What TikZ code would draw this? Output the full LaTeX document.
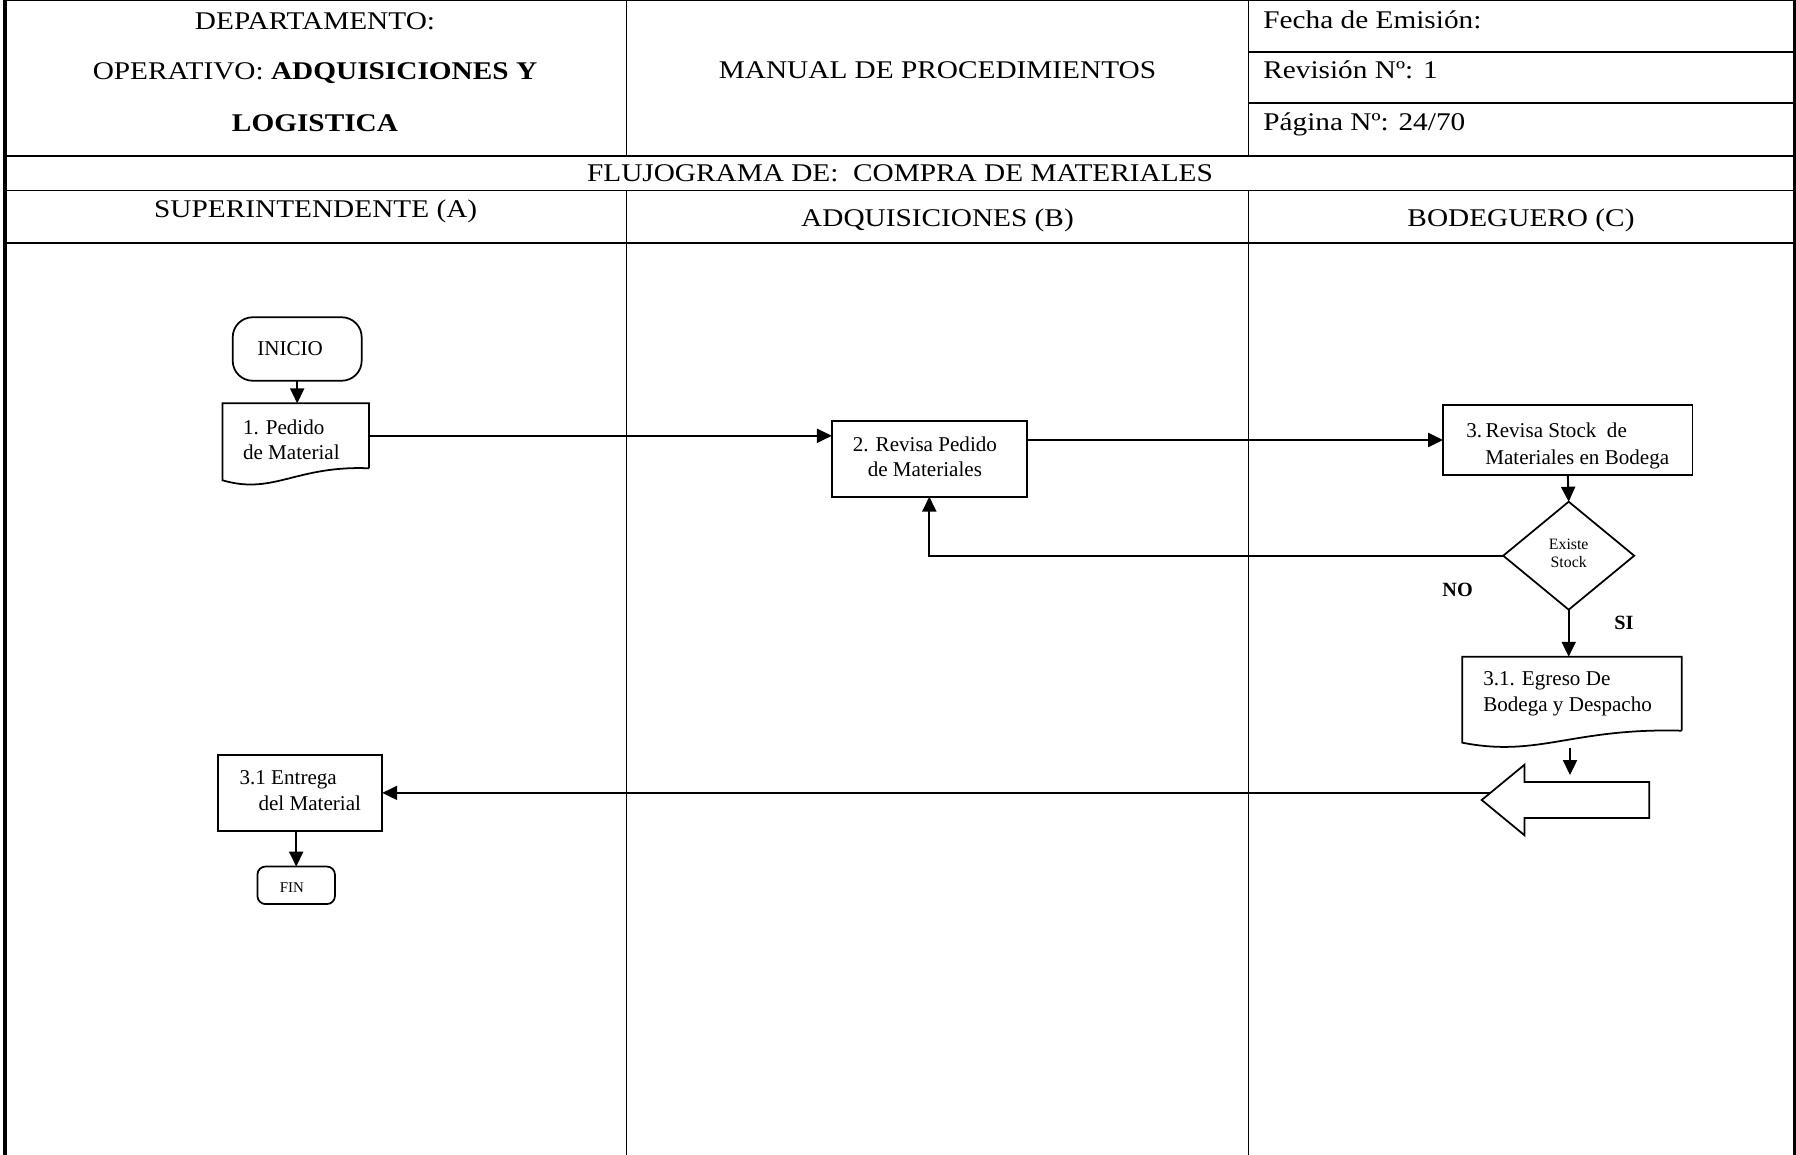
\documentclass[tikz,border=0pt]{standalone}
\usepackage{fontspec}
\setmainfont{Liberation Serif}
\newfontfamily\cabecera[FakeStretch=1.15]{Liberation Serif}
\usetikzlibrary{arrows.meta, calc, shapes.geometric, shapes.arrows}

\tikzset{
  tabla/.style={line width=1pt},
  titulo/.style={font=\cabecera\fontsize{14.5}{17}\selectfont, anchor=base, inner sep=0pt},
  caja/.style={draw, line width=1pt, font=\fontsize{12}{14.4}\selectfont, align=center, inner sep=0pt, outer sep=0pt},
  doc/.style={caja, draw=none, align=left},
  terminal/.style={caja, rounded corners=0.4cm},
  decision/.style={caja, diamond, font=\fontsize{9}{10.6}\selectfont},
  bloque/.style={single arrow, draw, line width=1pt, rotate=180, inner sep=0pt, outer sep=0pt,
    inner ysep=0.343cm, minimum height=3.35cm,
    single arrow head extend=0.343cm, single arrow tip angle=79},
  flecha/.style={line width=1.1pt, -{Triangle[length=8.5pt,width=8pt]}},
  etiqueta/.style={font=\bfseries\fontsize{11.5}{13}\selectfont, inner sep=0pt}
}

% documento con borde ondulado
\newcommand{\documento}[1]{%
  \draw[line width=1pt] (#1.south east) -- (#1.north east) -- (#1.north west)
    -- ($(#1.south west)+(0,12)$)
    .. controls ($(#1.south west)!0.35!(#1.south east)+(0,27)$)
    and ($(#1.south west)!0.5!(#1.south east)+(0,-3)$) .. (#1.south east);}
% soportes para bajar o subir el texto
\newcommand{\arriba}[1]{\rule{0pt}{#1}}
\newcommand{\abajo}[1]{\rule[-#1]{0pt}{#1}}

\begin{document}
\begin{tikzpicture}[x=0.02cm, y=-0.02cm]
  \useasboundingbox (0,0) rectangle (1796,1155);

  % Encabezado
  \draw[line width=0.6pt] (5,0.5) -- (1794,0.5);
  \draw[line width=2.8pt] (5,0) -- (5,1155);
  \draw[line width=1.7pt] (1794,0) -- (1794,1155);
  \foreach \xx in {626.5, 1248.5} {
    \draw[tabla] (\xx,0) -- (\xx,156);
    \draw[tabla] (\xx,190.5) -- (\xx,1155);
  }
  \foreach \yy in {51.7, 103.3} {
    \draw[tabla] (1248.5,\yy) -- (1794,\yy);
  }
  \foreach \yy in {156, 190.5, 242.7} {
    \draw[tabla] (5,\yy) -- (1794,\yy);
  }

  \node[titulo] (depto) at (315,30) {DEPARTAMENTO:};
  \node[titulo] (operativo) at (315,80) {OPERATIVO: \textbf{ADQUISICIONES Y}};
  \node[titulo] (logistica) at (315,131.5) {\textbf{LOGISTICA}};
  \node[titulo] (manual) at (937.5,79) {MANUAL DE PROCEDIMIENTOS};
  \node[titulo, anchor=base west] (fecha) at (1263,29) {Fecha de Emisión:};
  \node[titulo, anchor=base west] (revision) at (1263,79) {Revisión Nº: 1};
  \node[titulo, anchor=base west] (pagina) at (1263,131) {Página Nº: 24/70};
  \node[titulo] (flujograma) at (900,182) {FLUJOGRAMA DE:\ \ COMPRA DE MATERIALES};

  % Carriles
  \node[titulo] (carrilA) at (315.7,217.5) {SUPERINTENDENTE (A)};
  \node[titulo] (carrilB) at (937.5,226.7) {ADQUISICIONES (B)};
  \node[titulo] (carrilC) at (1521,226.7) {BODEGUERO (C)};

  % Pasos
  \node[terminal, minimum width=2.58cm, minimum height=1.27cm] (inicio) at (297.2,349) {INICIO\hspace*{8pt}};
  \node[doc, minimum width=2.93cm, minimum height=1.3cm] (pedido) at (295.7,435.8)
    {\arriba{12.7pt}1. Pedido\\de Material\hspace*{5pt}};
  \documento{pedido}
  \node[caja, minimum width=3.9cm, minimum height=1.52cm] (revisa) at (929.3,458.7)
    {2. Revisa Pedido\hspace*{5pt}\\de Materiales\hspace*{5pt}\abajo{2.6pt}};
  \node[caja, align=left, minimum width=4.99cm, minimum height=1.4cm] (stock) at (1567.8,440)
    {\arriba{14.7pt}3.\,Revisa Stock\ \ de\\[1pt]\hspace*{0.9em}Materiales en Bodega};
  \node[decision, minimum width=2.62cm, minimum height=2.16cm] (existe) at (1568.7,555.7)
    {Existe\\Stock\abajo{2.6pt}};
  \node[etiqueta] (no) at (1457.6,590) {NO};
  \node[etiqueta] (si) at (1624,622.7) {SI};
  \node[doc, minimum width=4.39cm, minimum height=1.48cm] (egreso) at (1572,693.7)
    {3.1. Egreso De\\Bodega y Despacho\hspace*{5pt}};
  \documento{egreso}
  \node[bloque, anchor=tip] (salida) at (1481.7,800) {};
  \node[caja, align=left, minimum width=3.28cm, minimum height=1.51cm] (entrega) at (300.3,792.9)
    {3.1 Entrega\\\hspace*{0.9em}del Material\abajo{2.6pt}};
  \node[caja, rounded corners=0.16cm, minimum width=1.55cm, minimum height=0.75cm,
    font=\fontsize{8.5}{10}\selectfont] (fin) at (296.2,885.3) {\arriba{8.2pt}FIN\hspace*{5pt}};

  % Conectores
  \draw[flecha] (inicio.south) -- (inicio.south |- pedido.north);
  \draw[flecha] (pedido.east) -- (pedido.east -| revisa.west);
  \draw[flecha] (revisa.east |- stock.west) -- (stock.west);
  \draw[flecha] (stock.south) -- (existe.north);
  \draw[flecha] (existe.west) -| (revisa.south);
  \draw[flecha] (existe.south) -- (existe.south |- egreso.north);
  \draw[flecha] ($(egreso.south)+(-2,17)$) -- ($(egreso.south |- salida.tip)+(-2,-25)$);
  \draw[flecha] ($(salida.tip |- entrega.east)+(8,0)$) -- (entrega.east);
  \draw[flecha] (fin.north |- entrega.south) -- (fin.north);
\end{tikzpicture}
\end{document}
